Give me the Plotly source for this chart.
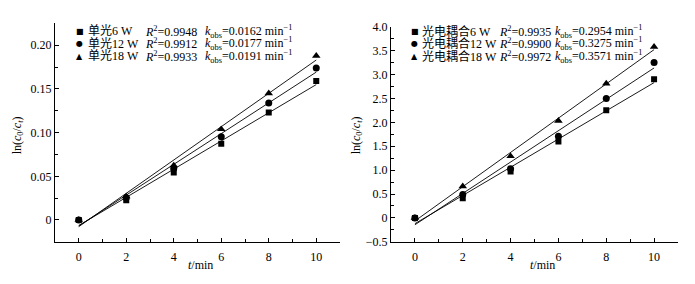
import numpy as np
import plotly.graph_objects as go

W, H = 695, 284

time_min = [0, 2, 4, 6, 8, 10]

single_6 = [0, 0.0225, 0.0543, 0.0873, 0.123, 0.159]
single_12 = [0, 0.0254, 0.059, 0.0953, 0.134, 0.174]
single_18 = [0, 0.027, 0.0625, 0.104, 0.145, 0.188]

coupled_6 = [0, 0.41, 0.97, 1.60, 2.25, 2.90]
coupled_12 = [0, 0.49, 1.03, 1.71, 2.50, 3.25]
coupled_18 = [0, 0.66, 1.29, 2.03, 2.81, 3.58]

single_names = ["单光6 W", "单光12 W", "单光18 W"]
single_r2 = ["0.9948", "0.9912", "0.9933"]
single_k = ["0.0162", "0.0177", "0.0191"]

coupled_names = ["光电耦合6 W", "光电耦合12 W", "光电耦合18 W"]
coupled_r2 = ["0.9935", "0.9900", "0.9972"]
coupled_k = ["0.2954", "0.3275", "0.3571"]

symbols = ["square", "circle", "triangle-up"]
glyphs = ["■", "●", "▲"]
sizes = [6, 7, 7.5]

FONT = "Liberation Serif, Times New Roman, Noto Sans CJK SC, serif"

fig = go.Figure()

def px_x(x):
    return x / W

def px_y(y):
    return 1 - y / H

panels = [
    dict(xa="x", ya="y", series=[single_6, single_12, single_18],
         names=single_names, r2=single_r2, k=single_k,
         mx=79.5, nx=86, rx=143, kx=203, tx=200, ytx=18),
    dict(xa="x2", ya="y2", series=[coupled_6, coupled_12, coupled_18],
         names=coupled_names, r2=coupled_r2, k=coupled_k,
         mx=414.5, nx=420, rx=497, kx=553, tx=542, ytx=357),
]

t = np.array(time_min, dtype=float)
annotations = []
row_y = [25.7, 38.6, 51.7]
for p in panels:
    for i, ys in enumerate(p["series"]):
        ys_arr = np.array(ys, dtype=float)
        slope, icpt = np.polyfit(t, ys_arr, 1)
        xl = np.array([t.min(), t.max()])
        fig.add_trace(go.Scatter(x=xl, y=slope * xl + icpt, mode="lines",
                                 line=dict(color="black", width=0.9),
                                 xaxis=p["xa"], yaxis=p["ya"], showlegend=False,
                                 hoverinfo="skip"))
        fig.add_trace(go.Scatter(x=time_min, y=ys, mode="markers",
                                 marker=dict(symbol=symbols[i], size=sizes[i], color="black",
                                             line=dict(width=0)),
                                 xaxis=p["xa"], yaxis=p["ya"], showlegend=False,
                                 name=p["names"][i]))
        yy = px_y(row_y[i])
        annotations.append(dict(x=px_x(p["mx"]), y=yy, xref="paper", yref="paper",
                                text=glyphs[i], showarrow=False, xanchor="center",
                                yanchor="middle", font=dict(size=8, color="black",
                                family="DejaVu Sans")))
        annotations.append(dict(x=px_x(p["nx"]), y=yy, xref="paper", yref="paper",
                                text=p["names"][i], showarrow=False, xanchor="left",
                                yanchor="middle", font=dict(size=12, color="black", family=FONT)))
        annotations.append(dict(x=px_x(p["rx"]), y=yy, xref="paper", yref="paper",
                                text="<i>R</i><sup>2</sup>=" + p["r2"][i], showarrow=False,
                                xanchor="left", yanchor="middle",
                                font=dict(size=12, color="black", family=FONT)))
        annotations.append(dict(x=px_x(p["kx"]), y=yy, xref="paper", yref="paper",
                                text="<i>k</i><sub>obs</sub>=" + p["k"][i] + " min<sup>−1</sup>",
                                showarrow=False, xanchor="left", yanchor="middle",
                                font=dict(size=12, color="black", family=FONT)))
    annotations.append(dict(x=px_x(p["tx"]), y=px_y(271), xref="paper", yref="paper",
                            text="<i>t</i>/min", showarrow=False, xanchor="center",
                            yanchor="middle", font=dict(size=12, color="black", family=FONT)))
    annotations.append(dict(x=px_x(p["ytx"]), y=px_y(135), xref="paper", yref="paper",
                            text="ln(<i>c</i><sub>0</sub>/<i>c</i><sub><i>t</i></sub>)",
                            textangle=-90, showarrow=False, xanchor="center",
                            yanchor="middle", font=dict(size=12, color="black", family=FONT)))

axis_common = dict(showline=True, linecolor="black", linewidth=1, showgrid=False,
                   zeroline=False, ticks="inside", ticklen=4, tickwidth=1, tickcolor="black",
                   tickfont=dict(size=12, color="black", family=FONT), mirror=False)

minor_common = dict(ticks="inside", ticklen=2.5, tickwidth=1, tickcolor="black", showgrid=False)

fig.update_layout(
    width=W, height=H,
    margin=dict(l=0, r=0, t=0, b=0),
    paper_bgcolor="white", plot_bgcolor="white",
    showlegend=False,
    annotations=annotations,
    xaxis=dict(domain=[55 / W, 340 / W], range=[-1, 11], tickvals=[0, 2, 4, 6, 8, 10],
               ticklabelstandoff=4,
               minor=dict(tickvals=[1, 3, 5, 7, 9], **minor_common), anchor="y", **axis_common),
    yaxis=dict(domain=[px_y(247), px_y(17.3)], range=[-0.025, 0.225],
               tickvals=[0, 0.05, 0.10, 0.15, 0.20], ticktext=["0", "0.05", "0.10", "0.15", "0.20"],
               minor=dict(tickvals=[-0.025, 0.025, 0.075, 0.125, 0.175], **minor_common),
               anchor="x", **axis_common),
    xaxis2=dict(domain=[391 / W, 678 / W], range=[-1, 11], tickvals=[0, 2, 4, 6, 8, 10],
                ticklabelstandoff=4,
                minor=dict(tickvals=[1, 3, 5, 7, 9], **minor_common), anchor="y2", **axis_common),
    yaxis2=dict(domain=[px_y(247), px_y(20.7)], range=[-0.5, 4.0],
                tickvals=[-0.5, 0, 0.5, 1.0, 1.5, 2.0, 2.5, 3.0, 3.5, 4.0],
                ticktext=["−0.5", "0", "0.5", "1.0", "1.5", "2.0", "2.5", "3.0", "3.5", "4.0"],
                minor=dict(tickvals=[-0.25, 0.25, 0.75, 1.25, 1.75, 2.25, 2.75, 3.25, 3.75], **minor_common),
                anchor="x2", **axis_common),
)

fig.write_html("out.html", config={"displayModeBar": False},
               post_script="document.body.style.margin='0';document.body.style.padding='0';document.body.style.overflow='hidden';")
